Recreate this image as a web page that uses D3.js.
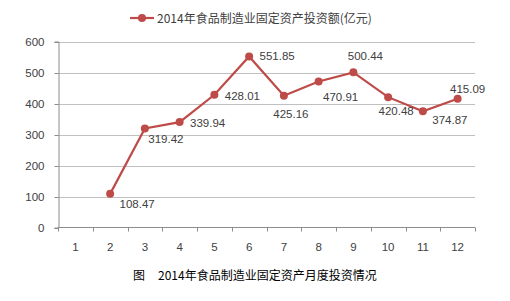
<!DOCTYPE html>
<meta charset="utf-8">
<style>
  body { margin: 0; background: #fff; }
  text { font-family: "Liberation Sans", Arial, sans-serif; }
  .cjk { font-family: "Noto Sans CJK SC", sans-serif; }
</style>
<svg width="510" height="301"></svg>
<script src="https://d3js.org/d3.v7.min.js"></script>
<script>

var months = ["1", "2", "3", "4", "5", "6", "7", "8", "9", "10", "11", "12"];
var values = [null, 108.47, 319.42, 339.94, 428.01, 551.85, 425.16, 470.91, 500.44, 420.48, 374.87, 415.09];
var yTicks = [0, 100, 200, 300, 400, 500, 600];
var seriesName = "2014年食品制造业固定资产投资额(亿元)";
var caption = "2014年食品制造业固定资产月度投资情况";

var red = "#be4b48", textColor = "#404040";
var svg = d3.select("svg");

var x = d3.scaleBand().domain(months).range([58, 475]);
var y = d3.scaleLinear().domain([0, 600]).range([227.5, 41.5]);

// gridlines
svg.append("g")
  .selectAll("line")
  .data(yTicks.slice(1))
  .enter().append("line")
    .attr("x1", 58).attr("x2", 475)
    .attr("y1", function(d) { return Math.round(y(d)) + 0.5; })
    .attr("y2", function(d) { return Math.round(y(d)) + 0.5; })
    .attr("stroke", "#c0c0c0");

// y axis
var yAxis = svg.append("g")
    .attr("transform", "translate(58.5,0)")
    .call(d3.axisLeft(y).tickValues(yTicks).tickSize(4).tickPadding(10));
yAxis.select(".domain").attr("stroke", "#8c8c8c");
yAxis.selectAll(".tick line").attr("stroke", "#8c8c8c");
yAxis.selectAll(".tick").attr("transform", function(d) { return "translate(0," + (Math.round(y(d)) + 0.5) + ")"; });
yAxis.selectAll("text").attr("fill", textColor).style("font-size", "11.5px");

// x axis: ticks at category boundaries
var xg = svg.append("g").attr("transform", "translate(0,227.5)");
xg.append("line").attr("x1", 58).attr("x2", 475).attr("stroke", "#8c8c8c");
xg.selectAll(".tk")
  .data(months.concat(["end"]))
  .enter().append("line")
    .attr("x1", function(d, i) { return Math.round(58 + i * x.bandwidth()) + 0.5; })
    .attr("x2", function(d, i) { return Math.round(58 + i * x.bandwidth()) + 0.5; })
    .attr("y1", 0).attr("y2", 4)
    .attr("stroke", "#8c8c8c");
xg.selectAll(".lb")
  .data(months)
  .enter().append("text")
    .attr("x", function(d) { return x(d) + x.bandwidth() / 2; })
    .attr("y", 23)
    .attr("text-anchor", "middle")
    .attr("fill", textColor)
    .style("font-size", "11.5px")
    .text(function(d) { return d; });

// series
var pts = months.map(function(m, i) { return {m: m, v: values[i]}; })
  .filter(function(d) { return d.v != null; });

var line = d3.line()
  .x(function(d) { return x(d.m) + x.bandwidth() / 2; })
  .y(function(d) { return y(d.v); });

svg.append("path")
  .datum(pts)
  .attr("d", line)
  .attr("fill", "none")
  .attr("stroke", red)
  .attr("stroke-width", 2.2);

svg.append("g")
  .selectAll("circle")
  .data(pts)
  .enter().append("circle")
    .attr("cx", function(d) { return x(d.m) + x.bandwidth() / 2; })
    .attr("cy", function(d) { return y(d.v); })
    .attr("r", 4)
    .attr("fill", red);

// label offsets relative to point (centre of text)
var labelOffsets = [[27, 10], [21, 11], [28, 1], [28, 1], [28, 0], [7, 18], [22, 15], [12, -16], [8, 14], [27, 9], [10, -10]];

svg.append("g")
  .selectAll("text")
  .data(pts)
  .enter().append("text")
    .attr("x", function(d, i) { return x(d.m) + x.bandwidth() / 2 + labelOffsets[i][0]; })
    .attr("y", function(d, i) { return y(d.v) + labelOffsets[i][1] + 4; })
    .attr("text-anchor", "middle")
    .attr("fill", textColor)
    .style("font-size", "11.5px")
    .text(function(d) { return d3.format(".2f")(d.v); });

// legend
var lg = svg.append("g").attr("transform", "translate(130,18)");
lg.append("line").attr("x1", 0).attr("x2", 24).attr("stroke", red).attr("stroke-width", 2.2);
lg.append("circle").attr("cx", 12).attr("r", 4).attr("fill", red);
lg.append("text").attr("class", "cjk")
  .attr("x", 27).attr("y", 4.5)
  .attr("fill", textColor)
  .style("font-size", "12px")
  .text(seriesName);

// caption
var cap = svg.append("text").attr("class", "cjk")
  .attr("x", 133).attr("y", 280)
  .attr("fill", "#000")
  .style("font-size", "12px");
cap.append("tspan").text("图");
cap.append("tspan").attr("x", 158).text(caption);

</script>
